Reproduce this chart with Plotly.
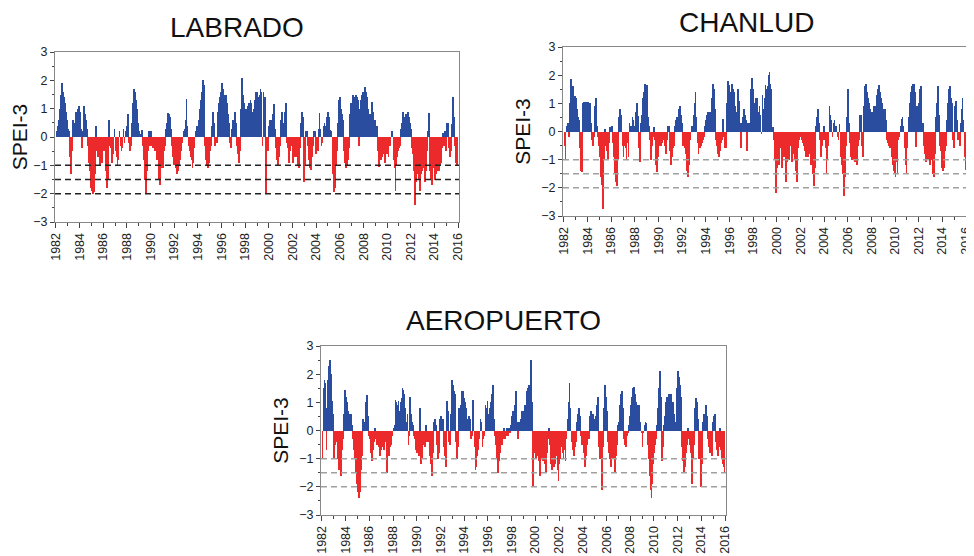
import plotly.graph_objects as go

years = list(range(1982, 2016))

labrado = [
    0.2, 0.4, 0.6, 0.3, 1.0, 1.5, 1.9, 1.6, 1.4, 1.2, 0.9, 0.6,
    0.3, 0.2, -0.7, -1.3, -0.5, 0.6, 0.5, 0.2, 0.9, 0.7, 1.0, 1.1,
    0.9, 0.3, -0.4, 0.2, 1.1, 0.8, 0.6, 0.3, -0.3, -0.9, -1.2, -1.8,
    -1.9, -2.0, -1.95, -1.3, 0.4, -0.5, -0.7, -0.6, -1.0, -0.8, -0.9, -0.5,
    -0.4, -0.5, -1.2, -1.8, -1.5, 0.6, -0.3, -0.4, -0.9, -0.6, -0.5, 0.3,
    -0.5, -0.7, -1.0, -0.8, 0.2, -0.3, -0.5, -0.4, 0.3, -0.2, 0.2, 0.4,
    0.7, 0.8, -0.2, -0.5, -0.3, 0.5, 1.2, 1.7, 1.6, 1.3, 1.0, 0.5,
    0.2, 0.1, 0.1, 0.25, -0.3, -0.8, -1.5, -2.0, -1.2, -0.5, 0.2, -0.3,
    0.2, -0.3, -0.4, -0.3, -0.5, -0.5, -0.8, -0.8, -1.5, -1.7, -1.1, -0.9,
    -1.1, -0.5, -0.3, 0.3, 0.5, 0.85, 0.8, 0.7, 0.3, -0.3, -0.7, -1.0,
    -1.0, -1.1, -1.3, -1.2, -1.0, -0.8, -0.5, -0.3, -0.2, 0.2, 0.3, 0.6,
    1.35, 0.4, -0.3, -0.5, -0.7, -0.8, -1.1, -0.9, -0.4, 0.2, 0.2, 0.4,
    0.4, 0.6, 1.0, 1.3, 1.6, 2.0, 1.85, -0.3, -0.8, -1.0, -1.1, -0.9,
    -0.5, -0.3, 0.4, 0.9, 0.5, -0.3, -0.2, -0.2, 0.9, 1.2, 1.4, 1.6,
    1.9, 1.7, 1.5, 1.3, 1.5, 1.2, 0.8, 0.5, -0.2, -0.4, 0.3, 0.6,
    0.6, 0.9, 0.5, -0.3, -0.6, -0.9, -0.5, 1.0, 2.1, 1.5, 1.2, 1.0,
    1.0, 0.6, 1.1, 1.2, 0.9, 1.3, 1.2, 0.9, 1.0, 1.3, 1.6, 1.6,
    1.6, 1.4, 1.5, 1.7, 1.6, -0.3, 1.6, 1.4, 1.4, -2.0, -0.3, -0.5,
    0.4, 0.6, 0.3, 0.6, 0.8, 1.15, 0.3, -0.4, -0.8, -1.0, -0.7, -0.3,
    0.6, 0.9, 0.3, 0.5, 0.9, 1.2, -0.2, -0.4, -0.9, -0.5, -0.2, -0.3,
    -0.9, -0.6, -0.7, -0.3, -0.7, -1.0, -1.1, -0.4, 0.5, 0.9, 0.7, -1.6,
    -1.0, 0.2, 0.2, -0.3, -0.8, -1.1, -1.15, -0.7, -0.3, 0.2, 0.2, -0.6,
    -0.3, -0.5, 0.3, 0.85, 0.3, -0.3, -0.2, 0.4, 0.5, 0.4, 0.7, 0.9,
    0.9, 0.7, 0.25, 0.2, -0.5, -1.3, -1.95, -1.8, -1.0, -0.5, 0.5, 1.3,
    1.4, 1.0, 0.8, 0.6, -0.5, -0.9, -1.1, -1.0, -0.8, -0.4, 0.8, 1.2,
    0.5, 1.5, 1.4, 1.3, 1.5, 1.4, 1.3, -0.3, 1.0, 1.3, 1.5, 1.6,
    1.6, 1.75, 1.6, 1.4, 1.0, 0.8, 0.8, 0.5, 1.25, 0.9, 0.6, 0.6,
    0.4, 0.4, -0.5, -1.05, -0.8, -0.8, -0.7, -0.5, -0.6, -0.9, -0.6, -0.3,
    -0.6, -0.7, -0.3, -0.3, 0.2, 0.2, -0.8, -1.1, -1.9, -1.0, -0.7, -0.5,
    -0.4, -0.3, 0.3, 0.5, 0.9, 0.7, 0.6, 0.8, 0.6, 0.9, 0.7, 0.5,
    0.3, -0.4, -0.6, -1.2, -2.4, -1.6, -1.3, -1.1, -1.5, -1.9, -1.3, -1.2,
    -0.9, -1.1, -1.6, -1.2, -0.5, 0.2, 0.85, -1.2, -1.5, -1.7, -1.1, -1.0,
    -1.5, -1.3, -1.0, -1.2, -1.2, -1.0, -0.9, -0.4, 0.15, -0.3, 0.2, -0.5,
    0.5, 0.5, -0.4, -0.7, -0.5, 0.45, 1.4, 0.7, -0.3, -0.9, -1.0, -1.0,
]

chanlud = [
    -0.5, -1.0, 0.2, 0.3, 0.3, -0.2, 1.0, 1.85, 1.5, 1.6, 1.2, 1.25,
    1.2, 0.8, 0.5, 0.4, -0.6, -1.4, -1.45, 1.0, 1.05, 0.7, 1.05, 1.05,
    1.05, 0.5, 1.0, 0.3, -0.3, -0.5, -0.2, 0.9, 1.2, 0.2, -0.2, -0.5,
    -0.9, -1.6, -1.9, -2.75, -1.0, 0.1, -0.5, -0.7, -1.0, -0.4, 0.15, 0.1,
    0.2, -0.4, -0.9, -1.5, -1.8, -1.95, -1.0, 0.5, 0.8, 0.6, 0.3, -0.5,
    -0.9, -0.5, -0.6, -1.0, -0.4, -0.9, 0.3, 0.2, 0.2, 0.5, 0.4, 0.2,
    0.7, 0.6, 1.0, 0.55, -0.6, -1.1, 0.3, 0.6, 1.2, 1.4, 1.7, 1.65,
    1.65, 0.5, 0.2, -0.3, -1.0, -0.5, -0.2, 0.15, -0.3, -1.2, -1.45, -0.9,
    -0.3, -0.5, -0.5, -0.4, -0.3, -0.3, -0.5, -0.8, -0.3, 0.2, 0.2, -0.7,
    -1.2, -0.9, -0.6, -0.5, 0.2, 0.4, 0.5, 0.5, 0.8, 0.9, 0.6, 0.3,
    -0.5, -0.3, -0.6, -0.8, -1.4, -1.6, -1.2, -0.5, -0.3, 0.2, 0.2, 0.6,
    1.0, 1.4, 0.5, -0.4, -0.8, -0.6, -0.6, -0.5, -0.4, -0.3, -0.2, 0.2,
    0.4, 0.6, 0.7, 0.5, 0.7, 0.6, 1.2, 1.7, 1.5, 0.8, -0.3, -0.5,
    -0.8, -0.9, -0.7, -0.4, -0.3, 0.45, -0.2, -0.6, -0.6, 1.0, 1.8, 1.65,
    1.4, 1.2, 1.7, 1.5, 1.4, 0.9, 0.7, 0.6, 1.5, 1.1, 0.3, -0.6,
    0.3, 0.5, 0.8, 0.6, 0.4, -0.7, 0.3, 0.2, 0.3, 1.5, 1.9, 1.5,
    1.0, 0.7, 1.2, 1.0, 1.2, 0.7, 0.9, 0.6, -0.1, 1.3, 0.8, 1.2,
    1.65, 1.5, 1.6, 2.0, 2.1, 1.7, 1.5, 0.15, 0.15, -0.3, -1.0, -2.2,
    -1.3, -1.0, -1.2, -0.6, -0.5, -1.3, -0.5, -0.9, -0.5, -1.8, -1.1, -0.6,
    -1.0, -0.3, -0.5, -1.1, -0.8, -0.5, -1.0, -1.4, -1.8, -0.6, -0.3, -0.2,
    -0.2, -0.3, -0.4, -0.5, -0.7, -0.9, -0.6, -0.9, -0.7, -0.8, -1.2, -1.0,
    -1.5, -1.95, -1.3, 0.2, 0.5, 0.8, 0.3, -0.3, -0.9, -0.5, -0.3, 0.2,
    -0.3, -0.6, -1.5, -1.0, -0.5, 0.9, 0.6, 0.4, -0.2, 0.3, 0.4, 0.2,
    0.2, -0.2, -0.3, 0.25, -0.5, -0.9, -1.2, -1.5, -2.3, -1.6, -0.5, 0.5,
    1.5, 0.3, -0.4, -0.9, -1.0, -0.8, -1.0, -1.1, -1.0, -1.2, -0.5, -0.3,
    0.6, 0.6, -0.5, -0.9, 0.9, 1.6, 1.7, 1.4, 1.2, 1.0, 0.8, 0.6,
    0.7, 0.6, 0.9, 0.5, 0.9, 1.3, 1.5, 1.65, 1.4, 1.2, 1.0, 0.8,
    0.5, 0.8, 0.4, -0.3, -0.4, -0.5, -0.6, -0.5, -0.9, -1.2, -1.4, -1.5,
    -1.6, -1.1, -1.5, -0.3, -0.2, 0.2, 0.45, 0.5, 0.2, -0.6, -1.2, -1.5,
    -0.6, 0.2, 0.5, 1.0, 1.4, 1.6, 1.7, 1.7, 1.4, -0.55, 0.9, 0.5,
    1.0, 1.5, 1.6, 0.3, 0.3, -0.5, -0.8, -1.1, -1.0, -0.8, -1.0, -1.2,
    -1.0, -1.0, -1.5, -1.6, -0.8, 0.5, 1.0, 1.6, 0.6, -0.5, -0.7, -1.3,
    -1.4, -1.3, -0.7, -0.5, 0.4, 1.0, 1.5, 1.6, 1.2, 1.0, -0.3, -0.6,
    0.9, 1.1, 0.4, -0.3, -0.3, -0.5, 0.3, 0.8, 1.2, 0.4, -0.9, -1.35,
]

aeropuerto = [
    -1.0, 1.5, 1.8, 1.7, -0.7, 0.8, 1.8, 2.3, 2.5, 2.0, 1.05, 0.6,
    -1.0, -0.5, -0.2, -0.4, -1.0, -1.4, -1.3, -1.6, -0.7, -0.3, 0.6, 1.45,
    1.2, 1.0, 0.7, 0.6, 0.5, 0.6, 0.2, -0.3, -0.7, -1.0, -1.5, -1.9,
    -2.2, -2.4, -2.2, -1.4, -0.9, 0.4, 0.3, 0.2, 1.0, 1.25, 0.5, -0.2,
    -0.3, -0.8, -1.1, -0.7, -0.4, 0.1, -0.3, -0.5, -0.3, -0.6, -0.9, -0.7,
    -0.5, -0.6, -0.7, -0.4, -0.3, -1.5, -0.6, -0.9, -0.6, -0.5, -0.3, -0.2,
    0.1, 0.2, 1.1, 1.0, 0.9, 1.05, 0.7, 1.0, 1.15, 1.5, 1.45, 1.3,
    0.8, 0.3, 0.6, -0.5, -0.2, 1.2, 0.6, 0.3, 0.2, -0.2, -0.3, -0.7,
    -0.8, -0.6, -0.9, 0.8, -1.2, -1.0, -0.5, -0.4, -0.6, 0.2, -0.4, -0.3,
    -0.4, -0.9, -1.2, -1.6, -0.8, 0.3, 0.4, 0.2, -0.5, -1.0, -0.8, 0.4,
    0.5, 0.4, 0.4, -0.6, -0.9, -1.3, 1.05, 0.7, -0.4, -0.5, 0.6, 1.8,
    1.6, 1.4, 1.3, -0.4, -1.0, -0.6, 0.8, 0.6, 0.9, 1.4, 1.4, 1.15,
    1.0, 0.8, 0.4, 0.4, 0.5, 0.4, -0.3, -0.2, 1.1, 0.6, -0.6, -1.4,
    -1.3, -0.9, -0.7, -0.3, 0.4, 0.3, -0.6, -0.3, -0.2, 0.9, 0.8, 1.05,
    0.6, 0.8, 0.7, 1.0, 1.3, 1.6, 0.4, -0.2, -0.5, -1.0, -1.5, -1.1,
    -0.8, -0.5, -0.5, -0.3, 0.1, -0.3, -0.2, 0.1, -0.2, 0.1, -0.1, 0.2,
    0.5, 0.7, 0.5, 0.9, 1.4, 0.3, -0.3, 0.3, 0.1, 0.4, 0.7, 0.5,
    0.7, 0.9, 0.8, 1.4, 1.5, 1.6, 1.3, 2.5, 1.0, -2.0, -0.5, -0.8,
    -1.0, -0.3, -0.9, -1.1, -1.6, -1.0, -0.9, -1.1, -1.0, -1.2, -1.5, -0.8,
    -0.3, 0.1, -0.5, -1.2, -1.4, -1.0, -1.3, -1.2, -0.9, -0.8, -1.4, -1.8,
    -1.2, -1.0, -0.6, -0.8, -1.0, -0.7, -1.1, -0.3, 0.4, 1.0, 1.7, 0.8,
    -0.4, -0.7, -0.5, -0.9, -0.6, -0.4, 0.3, 0.6, 0.8, 0.5, -0.2, -0.5,
    -0.5, -0.8, -1.3, -0.9, -0.5, -0.3, -0.3, 0.5, 0.7, 0.4, 0.6, 0.4,
    0.2, 0.5, 0.9, 1.2, -0.6, -1.0, -0.7, -2.1, -0.6, 0.8, 1.6, 1.2,
    0.7, -0.4, -0.8, -1.0, -1.3, -1.0, -0.8, -1.0, -1.5, -0.9, -0.5, 0.2,
    0.3, 0.9, 1.3, 1.4, 0.8, -0.3, -0.5, -0.6, -0.2, -0.1, 0.2, 0.5,
    0.9, 1.2, 1.5, 1.55, 1.3, 1.0, 0.8, 0.9, 0.6, 0.9, 0.3, -0.1,
    -0.6, -0.1, 0.2, 0.3, 0.25, -0.5, -1.0, -1.6, -2.1, -2.4, -1.9, -1.2,
    -0.8, -0.5, -0.3, 0.2, 0.8, 1.5, 2.1, 1.2, -1.1, -0.6, 0.2, 0.5,
    1.0, 1.2, 0.9, 1.3, 1.0, 1.3, 0.8, 1.0, 0.6, 0.2, 0.3, 1.5,
    2.1, 1.9, 1.6, 1.2, -0.6, -1.1, -1.5, -1.3, -0.8, -0.5, 0.1, -0.3,
    -0.5, -0.8, -1.9, -1.0, -0.5, 0.8, 1.15, 1.0, 0.4, -1.0, -0.8, -2.0,
    -1.2, 0.3, 0.6, 0.4, 0.9, 0.5, -0.3, -0.6, -0.8, -0.5, -0.9, 0.3,
    0.5, 0.6, -0.4, -0.7, -0.9, -0.6, 0.1, -0.7, -1.0, -1.2, -1.3, -1.5,
]

stations = ["LABRADO", "CHANLUD", "AEROPUERTO"]
tick_years = list(range(1982, 2017, 2))
thresholds = [-1.0, -1.5, -2.0]

BLUE = "#2a4d9f"
RED = "#ec2a2c"
FONT = "Liberation Sans, Arial, sans-serif"

# the page body has an 8px margin: figure occupies (8..974, 8..556)
W, H, OFF = 966, 548, 8


def px(X):
    return (X - OFF) / W


def py(Y):
    return 1 - (Y - OFF) / H


months_x = [y + (m + 0.5) / 12.0 for y in years for m in range(12)]

panels = [
    dict(x=[px(55), px(459)], y=[py(222), py(52)], dash="#222222", title_xy=(237, 28)),
    dict(x=[px(563), px(967)], y=[py(216), py(47)], dash="#a0a0a0", title_xy=(746, 22)),
    dict(x=[px(321), px(726)], y=[py(515), py(346)], dash="#a0a0a0", title_xy=(503, 320)),
]

fig = go.Figure()
series = [labrado, chanlud, aeropuerto]
shapes = []
annotations = []
layout_axes = {}
for i, (name, vals, p) in enumerate(zip(stations, series, panels)):
    k = "" if i == 0 else str(i + 1)
    colors = [BLUE if v >= 0 else RED for v in vals]
    fig.add_trace(go.Bar(
        x=months_x, y=vals, marker=dict(color=colors, line=dict(width=0)),
        width=0.8 / 12, xaxis="x" + k, yaxis="y" + k, showlegend=False,
    ))
    layout_axes["xaxis" + k] = dict(
        domain=p["x"], anchor="y" + k, range=[1981.92, 2016.08], automargin=False,
        tickmode="array", tickvals=tick_years, ticktext=[str(t) for t in tick_years],
        tickangle=-90, ticks="outside", ticklen=5, tickcolor="#444",
        minor=dict(dtick=1, tick0=1982, ticks="outside", ticklen=3, tickcolor="#444"),
        showline=True, mirror=True, linecolor="#888", linewidth=1,
        showgrid=False, zeroline=False,
        tickfont=dict(family=FONT, size=12.5, color="#222"),
    )
    layout_axes["yaxis" + k] = dict(
        domain=p["y"], anchor="x" + k, range=[-3, 3], dtick=1, automargin=False,
        ticks="outside", ticklen=4, tickcolor="#444",
        minor=dict(dtick=0.5, ticks="outside", ticklen=2, tickcolor="#444"),
        showline=True, mirror=True, linecolor="#888", linewidth=1,
        showgrid=False, zeroline=False,
        tickfont=dict(family=FONT, size=12.5, color="#222"),
        title=dict(text="SPEI-3", standoff=4,
                   font=dict(family=FONT, size=21, color="#111")),
    )
    for t in thresholds:
        shapes.append(dict(type="line", xref="x" + k + " domain", yref="y" + k,
                           x0=0, x1=1, y0=t, y1=t,
                           line=dict(color=p["dash"], width=1.5, dash="6px,4px")))
    tx, ty = p["title_xy"]
    annotations.append(dict(text=name, x=px(tx), y=py(ty), xref="paper", yref="paper",
                            xanchor="center", yanchor="middle", showarrow=False,
                            font=dict(family=FONT, size=28, color="#111")))

fig.update_layout(
    width=W, height=H, margin=dict(l=0, r=0, t=0, b=0),
    paper_bgcolor="white", plot_bgcolor="white",
    bargap=0, shapes=shapes, annotations=annotations, **layout_axes,
)

fig.write_html("out.html")
